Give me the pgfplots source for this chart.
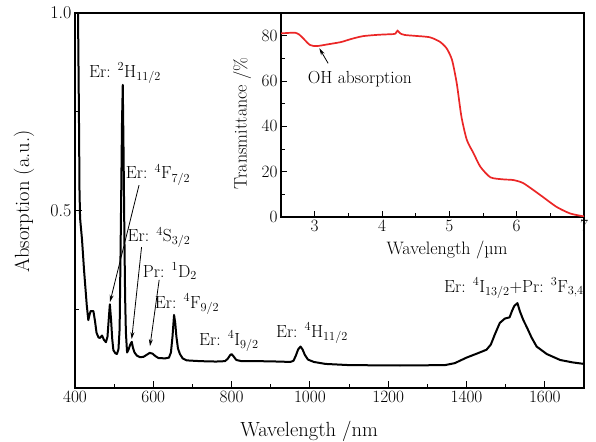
\documentclass[border=0pt]{standalone}
\usepackage{pgfplots}
\pgfplotsset{compat=1.18}
\usetikzlibrary{arrows.meta}
\definecolor{curvered}{RGB}{235,38,38}
\begin{document}
\begin{tikzpicture}
\path[use as bounding box] (-75pt,-53pt) rectangle (521pt,388pt);
\begin{axis}[
  at={(0pt,0pt)}, anchor=south west,
  scale only axis, width=509pt, height=375pt,
  xmin=400, xmax=1700, ymin=0.05, ymax=1.0,
  xtick={400,600,...,1600}, minor xtick={500,700,...,1700},
  ytick={0.5,1.0}, yticklabels={0.5,1.0}, minor ytick={0.25,0.75},
  xtick pos=bottom, ytick pos=left, tick align=inside,
  major tick length=7pt, minor tick length=4pt,
  axis line style={line width=1.4pt},
  every tick/.style={line width=1pt, black},
  tick label style={font=\fontsize{18}{21}\selectfont},
  label style={font=\fontsize{20.5}{24}\selectfont},
  xlabel={Wavelength /nm}, ylabel={Absorption (a.u.)},
  xlabel style={at={(axis description cs:0.46,-0.115)}, anchor=center},
  ylabel style={at={(axis description cs:-0.1,0.497)}, anchor=center},
  scaled ticks=false,
  xticklabel style={/pgf/number format/1000 sep={}},
]
\addplot[black, line width=2pt, line join=round] coordinates {
(400,1.3)(404,1.1)(407.7,1.0)(410,0.75)(411.5,0.55)(413,0.48)(418,0.425)(423,0.35)
(430,0.26)(434,0.222)(437,0.235)(440,0.245)(447,0.245)(451,0.22)(455,0.19)(460,0.178)
(464,0.177)(469,0.183)(474,0.172)(479,0.166)(483,0.18)(486,0.222)(489,0.262)(492,0.225)
(495,0.175)(498,0.146)(503,0.138)(507,0.136)(511,0.148)(514,0.2)(517,0.45)(520,0.72)
(522,0.818)(524,0.65)(526,0.45)(528,0.28)(530,0.19)(533,0.14)(537,0.148)(541,0.16)
(545,0.167)(548,0.152)(552,0.14)(558,0.132)(566,0.128)(575,0.129)(583,0.134)(591,0.139)
(598,0.137)(605,0.131)(613,0.126)(630,0.125)(640,0.127)(645,0.14)(649,0.18)(653,0.235)
(656,0.215)(659,0.18)(663,0.15)(668,0.136)(675,0.125)(685,0.12)(720,0.118)(760,0.117)
(783,0.118)(790,0.124)(796,0.133)(800,0.136)(805,0.13)(812,0.121)(825,0.118)(870,0.118)
(920,0.117)(950,0.116)(958,0.119)(964,0.132)(970,0.148)(976,0.155)(981,0.148)(987,0.134)
(995,0.122)(1010,0.116)(1040,0.111)(1100,0.108)(1230,0.107)(1345,0.108)(1370,0.113)
(1400,0.127)(1426,0.137)(1451,0.147)(1462,0.16)(1472,0.185)(1485,0.215)(1498,0.226)
(1510,0.229)(1516,0.245)(1522,0.258)(1530,0.265)(1536,0.245)(1545,0.222)(1554,0.204)
(1566,0.178)(1579,0.155)(1605,0.136)(1639,0.121)(1670,0.115)(1700,0.111)
};
\begin{scope}[every node/.style={font=\fontsize{17.5}{20}\selectfont, inner sep=0pt}]
\node at (axis cs:527.7,0.848) {Er: \textsuperscript{2}H\textsubscript{11/2}};
\node at (axis cs:612,0.59) {Er: \textsuperscript{4}F\textsubscript{7/2}};
\node at (axis cs:614.5,0.432) {Er: \textsuperscript{4}S\textsubscript{3/2}};
\node at (axis cs:642.6,0.346) {Pr: \textsuperscript{1}D\textsubscript{2}};
\node at (axis cs:686,0.263) {Er: \textsuperscript{4}F\textsubscript{9/2}};
\node at (axis cs:793,0.169) {Er: \textsuperscript{4}I\textsubscript{9/2}};
\node at (axis cs:1005,0.189) {Er: \textsuperscript{4}H\textsubscript{11/2}};
\node at (axis cs:1521,0.303) {Er: \textsuperscript{4}I\textsubscript{13/2}+Pr: \textsuperscript{3}F\textsubscript{3,4}};
\end{scope}
\draw[-{Stealth[length=7pt,width=4pt]}, line width=0.8pt] (axis cs:563.5,0.564) -- (axis cs:489.4,0.268);
\draw[-{Stealth[length=7pt,width=4pt]}, line width=0.8pt] (axis cs:570,0.407) -- (axis cs:544.8,0.174);
\draw[-{Stealth[length=7pt,width=4pt]}, line width=0.8pt] (axis cs:615,0.324) -- (axis cs:591.5,0.156);
\end{axis}
\begin{axis}[
  at={(206pt,171pt)}, anchor=south west,
  scale only axis, width=303pt, height=204pt,
  xmin=2.5, xmax=7, ymin=0, ymax=90,
  xtick={3,4,5,6,7}, minor xtick={2.5,3.5,4.5,5.5,6.5},
  ytick={0,20,40,60,80}, minor ytick={10,30,50,70},
  xtick pos=bottom, ytick pos=left, tick align=inside,
  major tick length=6pt, minor tick length=3.5pt,
  axis background/.style={fill=white},
  axis line style={line width=1.3pt},
  every tick/.style={line width=0.9pt, black},
  tick label style={font=\fontsize{18}{21}\selectfont},
  label style={font=\fontsize{18}{21}\selectfont},
  xlabel={Wavelength /\textmu m}, ylabel={Transmittance /\%},
  xlabel style={at={(axis description cs:0.548,-0.162)}, anchor=center},
  ylabel style={at={(axis description cs:-0.128,0.46)}, anchor=center},
]
\addplot[curvered, line width=1.7pt, smooth, tension=0.4] coordinates {
(2.5,81.0)(2.6,81.2)(2.71,81.3)(2.77,80.5)(2.83,78.8)(2.93,75.9)(3.03,75.4)(3.2,76.2)
(3.38,77.1)(3.42,77.4)(3.55,78.6)(3.72,79.8)(3.95,80.4)(4.17,80.7)(4.20,80.9)(4.23,82.2)
(4.27,81.0)(4.34,80.3)(4.5,79.9)(4.71,79.3)(4.86,77.3)(4.96,74.4)(5.04,69.3)(5.11,59.0)
(5.18,44.2)(5.26,34.0)(5.36,28.1)(5.46,22.2)(5.61,17.5)(5.80,16.6)(5.95,16.3)(6.10,14.9)
(6.35,9.7)(6.59,4.5)(6.79,1.6)(6.97,0.4)(7.0,0.3)
};
\node[font=\fontsize{17.5}{20}\selectfont, inner sep=0pt] at (axis cs:3.67,60.8) {OH absorption};
\draw[-{Stealth[length=7pt,width=4pt]}, line width=0.8pt] (axis cs:3.2,67.8) -- (axis cs:3.07,74.4);
\end{axis}
\end{tikzpicture}
\end{document}
